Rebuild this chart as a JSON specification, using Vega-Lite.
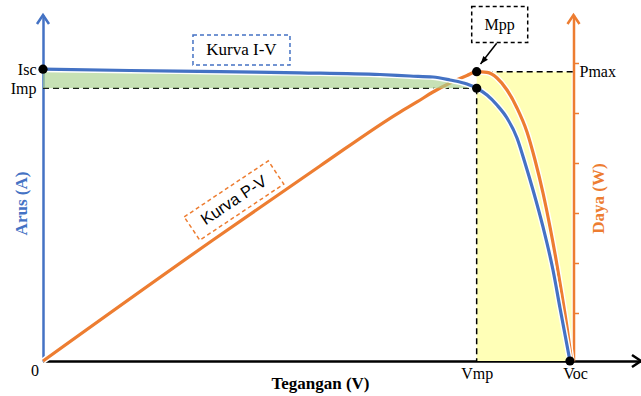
{
  "$schema": "https://vega.github.io/schema/vega-lite/v6.json",
  "width": 598,
  "height": 346,
  "autosize": {"type": "none"},
  "padding": {"left": 43, "top": 15, "right": 0, "bottom": 35},
  "background": "white",
  "config": {"view": {"stroke": null}, "axis": {"grid": false, "labelOverlap": false, "labelFlush": false, "labelBound": false}},
  "datasets": {
    "iv": [
      {"v": 0, "i": 5.06}, {"v": 3.637, "i": 5.038}, {"v": 7.4, "i": 5.017}, {"v": 10.744, "i": 4.998},
      {"v": 14.089, "i": 4.968}, {"v": 15.343, "i": 4.942}, {"v": 16.304, "i": 4.925}, {"v": 17.015, "i": 4.873},
      {"v": 17.726, "i": 4.803}, {"v": 18.13, "i": 4.73}, {"v": 18.562, "i": 4.613}, {"v": 18.98, "i": 4.439},
      {"v": 19.398, "i": 4.214}, {"v": 19.816, "i": 3.867}, {"v": 20.151, "i": 3.433}, {"v": 20.485, "i": 2.965},
      {"v": 20.903, "i": 2.324}, {"v": 21.321, "i": 1.578}, {"v": 21.614, "i": 0.919}, {"v": 22.03, "i": 0}
    ],
    "pv": [
      {"v": 0, "p": 0}, {"v": 7.107, "p": 35.85}, {"v": 11.58, "p": 57.77}, {"v": 14.925, "p": 73.76},
      {"v": 15.635, "p": 76.73}, {"v": 16.304, "p": 79.69}, {"v": 17.015, "p": 82.36}, {"v": 17.726, "p": 84.58},
      {"v": 18.13, "p": 85.7}, {"v": 18.562, "p": 85.5}, {"v": 18.98, "p": 83.84}, {"v": 19.398, "p": 80.28},
      {"v": 19.816, "p": 74.95}, {"v": 20.234, "p": 67.84}, {"v": 20.569, "p": 59.54}, {"v": 20.903, "p": 49.77},
      {"v": 21.196, "p": 39.7}, {"v": 21.488, "p": 28.44}, {"v": 21.697, "p": 19.55}, {"v": 21.906, "p": 10.07},
      {"v": 22.1, "p": 0}
    ]
  },
  "encoding": {
    "x": {
      "field": "v", "type": "quantitative",
      "scale": {"domain": [0, 25], "nice": false, "zero": false},
      "axis": {
        "values": [18.13, 22.03],
        "labelExpr": "datum.value < 20 ? 'Vmp' : 'Voc'",
        "domainColor": "black", "domainWidth": 2.5,
        "ticks": false, "tickSize": 0,
        "labelFont": "Liberation Serif", "labelFontSize": 16, "labelColor": "black", "labelPadding": 4,
        "labelOffset": {"condition": {"test": "datum.value > 20", "value": 5}, "value": 0},
        "title": "Tegangan (V)", "titleFont": "Liberation Serif", "titleFontSize": 17, "titleFontWeight": "bold",
        "titleColor": "black", "titleX": 277, "titleY": 22, "titleAlign": "center", "titleBaseline": "middle"
      }
    }
  },
  "resolve": {"scale": {"y": "independent"}},
  "layer": [
    {
      "data": {"values": [{"v": 18.13, "v2": 22.1, "p": 0, "p2": 85.7}]},
      "mark": {"type": "rect", "color": "#FFFFB7"},
      "encoding": {
        "x2": {"field": "v2"},
        "y": {"field": "p", "type": "quantitative", "scale": {"domain": [0, 102.5], "nice": false, "zero": false}, "axis": null},
        "y2": {"field": "p2"}
      }
    },
    {
      "data": {"values": [{"v": 0, "v2": 18.13, "i": 4.73, "i2": 4.73}, {"v": 18.13, "v2": 18.13, "i": 4.73, "i2": 0}]},
      "mark": {"type": "rule", "color": "black", "strokeWidth": 1.5, "strokeDash": [6, 4]},
      "encoding": {
        "x2": {"field": "v2"},
        "y": {"field": "i", "type": "quantitative", "scale": {"domain": [0, 6], "nice": false, "zero": false}, "axis": null},
        "y2": {"field": "i2"}
      }
    },
    {
      "data": {"values": [{"v": 18.13, "v2": 22.178, "p": 85.7}]},
      "mark": {"type": "rule", "color": "black", "strokeWidth": 1.5, "strokeDash": [6, 4]},
      "encoding": {
        "x2": {"field": "v2"},
        "y": {"field": "p", "type": "quantitative", "scale": {"domain": [0, 102.5], "nice": false, "zero": false}, "axis": null}
      }
    },
    {
      "data": {"name": "pv"},
      "mark": {"type": "line", "color": "white", "strokeWidth": 6, "interpolate": "monotone"},
      "encoding": {
        "y": {"field": "p", "type": "quantitative", "scale": {"domain": [0, 102.5], "nice": false, "zero": false}, "axis": null}
      }
    },
    {
      "data": {"name": "pv"},
      "mark": {"type": "line", "color": "#ED7D31", "strokeWidth": 3.2, "interpolate": "monotone"},
      "encoding": {
        "y": {
          "field": "p", "type": "quantitative",
          "scale": {"domain": [0, 102.5], "nice": false, "zero": false},
          "axis": {
            "orient": "right", "offset": -67.5,
            "values": [14.22, 29.03, 43.84, 58.66, 73.47, 88.28],
            "labels": false,
            "domainColor": "#ED7D31", "domainWidth": 2.5,
            "tickColor": "#ED7D31", "tickSize": 5, "tickWidth": 1.5,
            "title": "Daya (W)", "titleColor": "#ED7D31", "titleFont": "Liberation Serif", "titleFontSize": 17,
            "titleFontWeight": "bold", "titleAngle": 270, "titleX": 25, "titleY": 183,
            "titleAlign": "center", "titleBaseline": "middle"
          }
        }
      }
    },
    {
      "data": {"name": "iv"},
      "transform": [{"filter": "datum.v <= 18.14"}],
      "mark": {"type": "area", "color": "#A9D18E", "opacity": 0.65, "interpolate": "monotone"},
      "encoding": {
        "y": {"field": "i", "type": "quantitative", "scale": {"domain": [0, 6], "nice": false, "zero": false}, "axis": null},
        "y2": {"datum": 4.73}
      }
    },
    {
      "data": {"name": "iv"},
      "mark": {"type": "line", "color": "white", "strokeWidth": 6, "interpolate": "monotone"},
      "encoding": {
        "y": {"field": "i", "type": "quantitative", "scale": {"domain": [0, 6], "nice": false, "zero": false}, "axis": null}
      }
    },
    {
      "data": {"name": "iv"},
      "mark": {"type": "line", "color": "#4472C4", "strokeWidth": 3.2, "interpolate": "monotone"},
      "encoding": {
        "y": {
          "field": "i", "type": "quantitative",
          "scale": {"domain": [0, 6], "nice": false, "zero": false},
          "axis": {
            "orient": "left",
            "values": [5.06, 4.73],
            "labelExpr": "datum.value > 5 ? 'Isc' : 'Imp'",
            "ticks": false, "tickSize": 0, "labelPadding": 7,
            "labelFont": "Liberation Serif", "labelFontSize": 16, "labelColor": "black",
            "domainColor": "#4472C4", "domainWidth": 2.5,
            "title": "Arus (A)", "titleColor": "#4472C4", "titleFont": "Liberation Serif", "titleFontSize": 17,
            "titleFontWeight": "bold", "titleAngle": 270, "titleX": -22, "titleY": 188,
            "titleAlign": "center", "titleBaseline": "middle"
          }
        }
      }
    },
    {
      "data": {"values": [{"v": 0, "i": 5.06}, {"v": 18.13, "i": 4.73}, {"v": 22.03, "i": 0}]},
      "mark": {"type": "point", "filled": true, "color": "black", "size": 85, "opacity": 1},
      "encoding": {
        "y": {"field": "i", "type": "quantitative", "scale": {"domain": [0, 6], "nice": false, "zero": false}, "axis": null}
      }
    },
    {
      "data": {"values": [{"v": 18.13, "p": 85.7}]},
      "mark": {"type": "point", "filled": true, "color": "black", "size": 85, "opacity": 1},
      "encoding": {
        "y": {"field": "p", "type": "quantitative", "scale": {"domain": [0, 102.5], "nice": false, "zero": false}, "axis": null}
      }
    },
    {
      "data": {"values": [{"v": 8.298, "i": 5.393, "t": "Kurva I-V"}]},
      "layer": [
        {"mark": {"type": "point", "shape": "M-1,-0.3093H1V0.3093H-1Z", "size": 9409, "filled": false, "color": "#4472C4", "strokeWidth": 1.5, "strokeDash": [4, 3], "opacity": 1}},
        {"mark": {"type": "text", "font": "Liberation Serif", "fontSize": 17, "color": "black", "align": "center", "baseline": "middle"}, "encoding": {"text": {"field": "t"}}}
      ],
      "encoding": {
        "y": {"field": "i", "type": "quantitative", "scale": {"domain": [0, 6], "nice": false, "zero": false}, "axis": null}
      }
    },
    {
      "data": {"values": [{"v": 19.093, "i": 5.835, "t": "Mpp"}]},
      "layer": [
        {"mark": {"type": "point", "shape": "M-1,-0.6429H1V0.6429H-1Z", "size": 3136, "filled": false, "color": "black", "strokeWidth": 1.5, "strokeDash": [4, 3], "opacity": 1}},
        {"mark": {"type": "text", "font": "Liberation Serif", "fontSize": 16, "color": "black", "align": "center", "baseline": "middle"}, "encoding": {"text": {"field": "t"}}}
      ],
      "encoding": {
        "y": {"field": "i", "type": "quantitative", "scale": {"domain": [0, 6], "nice": false, "zero": false}, "axis": null}
      }
    },
    {
      "data": {"values": [{"v": 7.985, "i": 2.783, "t": "Kurva P-V"}]},
      "layer": [
        {"mark": {"type": "point", "shape": "M-1,-0.2772H1V0.2772H-1Z", "size": 10201, "angle": 326.3, "filled": false, "color": "#ED7D31", "strokeWidth": 1.5, "strokeDash": [4, 3], "opacity": 1}},
        {"mark": {"type": "text", "font": "Liberation Sans", "fontSize": 16.5, "angle": 326.3, "color": "black", "align": "center", "baseline": "middle"}, "encoding": {"text": {"field": "t"}}}
      ],
      "encoding": {
        "y": {"field": "i", "type": "quantitative", "scale": {"domain": [0, 6], "nice": false, "zero": false}, "axis": null}
      }
    },
    {
      "data": {"values": [{"v": 18.967, "v2": 18.29, "i": 5.509, "i2": 5.15}]},
      "mark": {"type": "rule", "color": "black", "strokeWidth": 1.5},
      "encoding": {
        "x2": {"field": "v2"},
        "y": {"field": "i", "type": "quantitative", "scale": {"domain": [0, 6], "nice": false, "zero": false}, "axis": null},
        "y2": {"field": "i2"}
      }
    },
    {
      "data": {"values": [{"v": 18.29, "i": 5.15}]},
      "mark": {"type": "point", "shape": "M0,0L-0.6,-1.6L0.6,-1.6Z", "size": 100, "angle": 40, "filled": true, "color": "black", "opacity": 1},
      "encoding": {
        "y": {"field": "i", "type": "quantitative", "scale": {"domain": [0, 6], "nice": false, "zero": false}, "axis": null}
      }
    },
    {
      "data": {"values": [{"v": 0, "i": 6, "c": "left"}, {"v": 22.178, "i": 6, "c": "right"}]},
      "mark": {"type": "point", "shape": "M-1,1.5L0,0L1,1.5", "size": 144, "filled": false, "strokeWidth": 2.5, "opacity": 1},
      "encoding": {
        "y": {"field": "i", "type": "quantitative", "scale": {"domain": [0, 6], "nice": false, "zero": false}, "axis": null},
        "color": {"field": "c", "type": "nominal", "scale": {"domain": ["left", "right"], "range": ["#4472C4", "#ED7D31"]}, "legend": null}
      }
    },
    {
      "data": {"values": [{"v": 25, "i": 0}]},
      "mark": {"type": "point", "shape": "M-1,1.5L0,0L1,1.5", "size": 144, "angle": 90, "filled": false, "color": "black", "strokeWidth": 2.5, "opacity": 1},
      "encoding": {
        "y": {"field": "i", "type": "quantitative", "scale": {"domain": [0, 6], "nice": false, "zero": false}, "axis": null}
      }
    },
    {
      "data": {"values": [{"v": 0, "i": 0, "t": "0"}]},
      "mark": {"type": "text", "font": "Liberation Serif", "fontSize": 16, "color": "black", "align": "center", "baseline": "middle", "dx": -8, "dy": 10},
      "encoding": {
        "y": {"field": "i", "type": "quantitative", "scale": {"domain": [0, 6], "nice": false, "zero": false}, "axis": null},
        "text": {"field": "t"}
      }
    },
    {
      "data": {"values": [{"v": 22.178, "p": 85.7, "t": "Pmax"}]},
      "mark": {"type": "text", "font": "Liberation Serif", "fontSize": 16, "color": "black", "align": "left", "baseline": "middle", "dx": 6},
      "encoding": {
        "y": {"field": "p", "type": "quantitative", "scale": {"domain": [0, 102.5], "nice": false, "zero": false}, "axis": null},
        "text": {"field": "t"}
      }
    }
  ]
}
